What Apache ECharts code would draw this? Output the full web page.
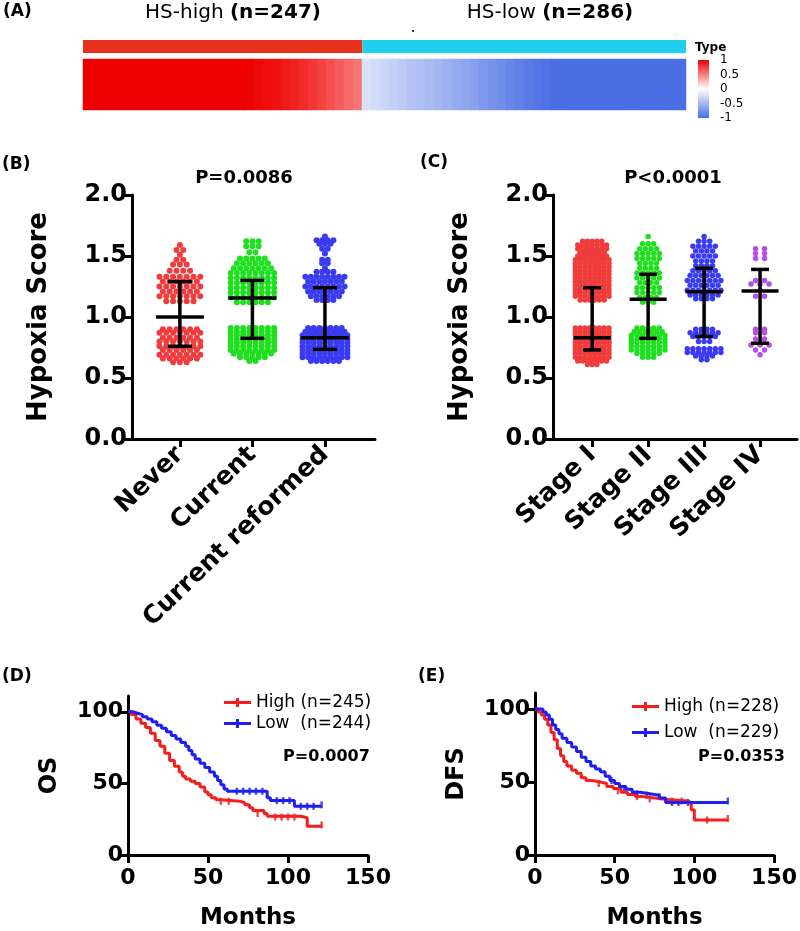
<!DOCTYPE html>
<html>
<head>
<meta charset="utf-8">
<title>Hypoxia score panels</title>
<script src="https://cdn.jsdelivr.net/npm/echarts@6/dist/echarts.min.js"></script>
<style>
  html, body { margin: 0; padding: 0; background: #fff; }
  #chart { width: 800px; height: 931px; }
</style>
</head>
<body>
<div id="chart"></div>
<script>
const FONT = '"DejaVu Sans", sans-serif';

// ---- (A) heatmap: one cell = about 8 samples ----
const groupNames = ["HS-high", "HS-low"];
const groupSizes = [247, 286];
const typeColors = ["#E8331A", "#1DD0EE"];
const hsHighScores = [1, 1, 1, 1, 1, 1, 1, 1, 1, 1, 1, 1, 1, 1, 1, 1, 1, 1,
  0.99, 0.97, 0.95, 0.93, 0.9, 0.87, 0.83, 0.79, 0.74, 0.69, 0.64, 0.59, 0.54];
const hsLowScores = [-0.21, -0.25, -0.29, -0.33, -0.37, -0.41, -0.44, -0.47, -0.5, -0.54, -0.58,
  -0.62, -0.66, -0.71, -0.75, -0.79, -0.84, -0.88, -0.92, -0.95, -0.97, -0.99,
  -1, -1, -1, -1, -1, -1, -1, -1, -1, -1, -1, -1, -1, -1];
const colorbarTicks = ["1", "0.5", "0", "-0.5", "-1"];

// ---- (B) smoking status: rows of the swarm as [score, number of dots] ----
const smokingCats = ["Never", "Current", "Current reformed"];
const neverRows = [[1.59, 1], [1.55, 2], [1.51, 1], [1.47, 2], [1.43, 3], [1.38, 4], [1.33, 7], [1.29, 6],
  [1.25, 7], [1.21, 6], [1.17, 7], [1.13, 5], [0.9, 6], [0.87, 7], [0.83, 6], [0.8, 7], [0.76, 7],
  [0.73, 6], [0.69, 7], [0.66, 6], [0.63, 3]];
const currentRows = [[1.62, 3], [1.58, 3], [1.53, 2], [1.48, 5], [1.44, 6], [1.4, 7], [1.36, 8], [1.32, 8],
  [1.28, 8], [1.24, 8], [1.2, 8], [1.16, 8], [1.12, 6], [0.91, 8], [0.88, 8], [0.85, 8], [0.82, 8],
  [0.79, 8], [0.76, 8], [0.73, 8], [0.7, 7], [0.67, 5], [0.64, 2]];
const reformedRows = [[1.66, 1], [1.63, 4], [1.6, 3], [1.56, 2], [1.52, 1], [1.47, 2], [1.44, 2], [1.4, 1],
  [1.37, 4], [1.33, 8], [1.29, 7], [1.25, 8], [1.21, 7], [1.17, 6], [1.14, 4], [0.91, 7], [0.88, 8],
  [0.85, 9], [0.82, 9], [0.79, 9], [0.76, 9], [0.73, 9], [0.7, 9], [0.67, 9], [0.64, 6]];
// [category index, middle line, lower cap, upper cap]
const smokingBars = [[0, 1.0, 0.76, 1.29], [1, 1.155, 0.825, 1.3], [2, 0.83, 0.735, 1.24]];

// ---- (C) stage ----
const stageCats = ["Stage I", "Stage II", "Stage III", "Stage IV"];
const stage1Rows = [[1.62, 5], [1.59, 7], [1.56, 7], [1.53, 6], [1.5, 7], [1.47, 8], [1.44, 8], [1.41, 8],
  [1.38, 8], [1.35, 8], [1.32, 8], [1.29, 8], [1.26, 8], [1.23, 8], [1.2, 8], [1.17, 8], [1.14, 6],
  [0.91, 8], [0.88, 8], [0.85, 8], [0.82, 8], [0.79, 8], [0.76, 8], [0.73, 8], [0.7, 8], [0.67, 8],
  [0.64, 7], [0.61, 3]];
const stage2Rows = [[1.66, 1], [1.6, 3], [1.56, 4], [1.52, 5], [1.48, 5], [1.44, 4], [1.4, 4], [1.36, 5],
  [1.32, 5], [1.28, 4], [1.24, 5], [1.2, 5], [1.16, 4], [1.12, 3], [0.91, 5], [0.88, 6], [0.85, 7],
  [0.82, 7], [0.79, 7], [0.76, 7], [0.73, 7], [0.7, 5], [0.67, 3]];
const stage3Rows = [[1.66, 1], [1.62, 3], [1.58, 5], [1.54, 4], [1.5, 5], [1.46, 4], [1.42, 4], [1.38, 5],
  [1.34, 6], [1.3, 7], [1.26, 6], [1.22, 7], [1.18, 6], [1.15, 4], [0.9, 4], [0.87, 6], [0.84, 5],
  [0.8, 3], [0.74, 7], [0.71, 7], [0.68, 4], [0.65, 2]];
const stage4Rows = [[1.56, 2], [1.52, 2], [1.48, 2], [1.3, 2], [1.27, 3], [1.22, 1], [1.17, 2], [0.9, 2],
  [0.87, 2], [0.82, 2], [0.77, 3], [0.73, 2], [0.69, 1]];
const stageBars = [[0, 0.83, 0.73, 1.24], [1, 1.145, 0.825, 1.35], [2, 1.207, 0.84, 1.4], [3, 1.213, 0.785, 1.39]];

// ---- (D) OS, (E) DFS: Kaplan-Meier steps as [month, survival %] ----
const osHigh = [[0, 100], [2, 98], [5, 95], [8, 92], [11, 89], [14, 85], [17, 80], [20, 76], [23, 71], [26, 66],
  [29, 62], [32, 58], [34, 55], [36, 53], [39, 51.5], [42, 50], [45, 47.5], [48, 44], [50, 42], [52, 40],
  [55, 38.5], [58, 37.5], [70, 36.5], [73, 35], [76, 33], [78, 31], [85, 29], [87, 27], [108, 26], [112, 20], [121, 20]];
const osLow = [[0, 100], [3, 99], [6, 98], [9, 96.5], [12, 95], [15, 93], [18, 90.5], [21, 88.5], [24, 86],
  [27, 83.5], [30, 81], [33, 78.5], [36, 76], [38, 73], [40, 70], [42, 67], [45, 64], [48, 61], [51, 58],
  [54, 55], [56, 52], [58, 49], [60, 46], [62, 44.5], [87, 40], [89, 38], [104, 34], [121, 34]];
const osHighCensor = [[58, 37.5], [63, 37.5], [81, 29], [92, 26.5], [96, 26.5], [100, 26.5], [104, 26.5], [121, 21]];
const osLowCensor = [[68, 44.5], [72, 44.5], [76, 44.5], [80, 44.5], [84, 44.5], [93, 38], [97, 38], [101, 38],
  [108, 34], [112, 34], [116, 34], [121, 35]];
const dfsHigh = [[0, 100], [2, 98], [4, 96], [6, 93], [8, 89], [10, 84], [12, 79], [14, 73], [16, 68], [18, 64],
  [20, 61], [23, 58], [26, 56], [29, 53], [32, 51], [36, 50], [41, 49], [45, 47], [49, 45.5], [54, 43],
  [58, 41.5], [63, 40], [68, 39], [75, 38], [83, 37], [96, 36], [98, 31], [100, 24], [121, 24]];
const dfsLow = [[0, 100], [3, 100], [5, 98], [7, 96], [9, 93], [11, 89], [13, 86], [15, 83], [17, 80], [20, 77],
  [23, 74], [26, 71], [29, 67], [32, 64], [35, 61], [38, 59], [41, 57], [44, 54], [47, 51], [50, 49],
  [53, 47], [57, 45], [61, 43], [66, 42], [72, 41], [78, 39], [82, 36], [121, 36]];
const dfsHighCensor = [[40, 49], [52, 44], [64, 40], [72, 38.5], [86, 37], [92, 37], [108, 24], [121, 25]];
const dfsLowCensor = [[48, 51], [56, 45], [64, 42], [70, 41], [78, 40], [86, 36], [90, 36], [96, 36], [121, 37]];
const kmTicksY = [0, 50, 100];

const RED = "#F03C3C";
const GREEN = "#1EE01E";
const BLUE = "#3A3AF0";
const PURPLE = "#B450E6";
const KM_RED = "#F51E1E";
const KM_BLUE = "#1E1EF0";

// swarm layout: dots of one row spread sideways around the category centre
function swarm(rows, index, spacingPx, unitPx) {
  const points = [];
  rows.forEach(([score, count]) => {
    for (let i = 0; i < count; i++) {
      points.push([index + ((i - (count - 1) / 2) * spacingPx) / unitPx, score]);
    }
  });
  return points;
}

function errorBars(meanW, capW) {
  return function (params, api) {
    const x = api.value(0);
    const mid = api.coord([x, api.value(1)]);
    const lo = api.coord([x, api.value(2)]);
    const hi = api.coord([x, api.value(3)]);
    const style = { stroke: "#000", lineWidth: 3.5 };
    const hLine = (p, w) => ({
      type: "line",
      shape: { x1: p[0] - w / 2, y1: p[1], x2: p[0] + w / 2, y2: p[1] },
      style,
    });
    return {
      type: "group",
      children: [
        { type: "line", shape: { x1: lo[0], y1: lo[1], x2: hi[0], y2: hi[1] }, style },
        hLine(lo, capW),
        hLine(hi, capW),
        hLine(mid, meanW),
      ],
    };
  };
}

const axisLine = { show: true, onZero: false, lineStyle: { color: "#000", width: 3 } };
const axisTick = { show: true, length: 8, lineStyle: { color: "#000", width: 3 } };
const boldText = (size) => ({ fontFamily: FONT, fontWeight: "bold", fontSize: size, color: "#000" });

function scoreYAxis(gridIndex) {
  return {
    type: "value",
    gridIndex,
    min: 0,
    max: 2,
    interval: 0.5,
    name: "Hypoxia Score",
    nameLocation: "middle",
    nameRotate: 90,
    nameGap: 80,
    nameTextStyle: boldText(26),
    axisLine,
    axisTick,
    axisLabel: { ...boldText(24), margin: 5, formatter: (v) => v.toFixed(1) },
    splitLine: { show: false },
  };
}

function categoryXAxis(gridIndex, cats, min, max) {
  const idx = cats.map((c, i) => i);
  return {
    type: "value",
    gridIndex,
    min,
    max,
    axisLine,
    axisTick: { ...axisTick, customValues: idx },
    axisLabel: { ...boldText(25), rotate: 44, margin: 12, customValues: idx, formatter: (v) => cats[v] },
    splitLine: { show: false },
  };
}

function kmXAxis(gridIndex) {
  return {
    type: "value",
    gridIndex,
    min: 0,
    max: 150,
    interval: 50,
    name: "Months",
    nameLocation: "middle",
    nameGap: 52,
    nameTextStyle: boldText(23),
    axisLine,
    axisTick,
    axisLabel: { ...boldText(22), margin: 12 },
    splitLine: { show: false },
  };
}

function kmYAxis(gridIndex, name) {
  return {
    type: "value",
    gridIndex,
    min: 0,
    max: 111,
    name,
    nameLocation: "middle",
    nameRotate: 90,
    nameGap: 66,
    nameTextStyle: boldText(24),
    axisLine,
    axisTick: { ...axisTick, customValues: kmTicksY },
    axisLabel: { ...boldText(22), margin: 5, customValues: kmTicksY },
    splitLine: { show: false },
  };
}

function scatter(name, data, color, size, xi) {
  return {
    name,
    type: "scatter",
    xAxisIndex: xi,
    yAxisIndex: xi,
    data,
    symbolSize: size,
    itemStyle: { color, opacity: 1 },
    silent: true,
    z: 2,
  };
}

function kmLine(name, data, color, xi) {
  return {
    name,
    type: "line",
    step: "end",
    xAxisIndex: xi,
    yAxisIndex: xi,
    data,
    showSymbol: false,
    lineStyle: { color, width: 3 },
    itemStyle: { color },
  };
}

function censor(data, color, xi) {
  return {
    type: "scatter",
    xAxisIndex: xi,
    yAxisIndex: xi,
    data,
    symbol: "rect",
    symbolSize: [2.5, 7],
    itemStyle: { color },
    silent: true,
  };
}

const B_UNIT = 72.5;
const C_UNIT = 56;
const heatData = hsHighScores.concat(hsLowScores).map((v, i) => [i, 0, v]);

const series = [
  { type: "bar", stack: "type", xAxisIndex: 0, yAxisIndex: 0, data: [groupSizes[0]], barWidth: "100%",
    itemStyle: { color: typeColors[0] }, silent: true },
  { type: "bar", stack: "type", xAxisIndex: 0, yAxisIndex: 0, data: [groupSizes[1]], barWidth: "100%",
    itemStyle: { color: typeColors[1] }, silent: true },
  { type: "heatmap", xAxisIndex: 1, yAxisIndex: 1, data: heatData, itemStyle: { borderWidth: 0 }, silent: true },

  scatter("Never", swarm(neverRows, 0, 6.8, B_UNIT), RED, 6, 2),
  scatter("Current", swarm(currentRows, 1, 6.2, B_UNIT), GREEN, 6, 2),
  scatter("Current reformed", swarm(reformedRows, 2, 5.6, B_UNIT), BLUE, 6, 2),
  { type: "custom", xAxisIndex: 2, yAxisIndex: 2, data: smokingBars, renderItem: errorBars(48, 24), z: 5, silent: true },

  scatter("Stage I", swarm(stage1Rows, 0, 4.8, C_UNIT), RED, 5.5, 3),
  scatter("Stage II", swarm(stage2Rows, 1, 5.6, C_UNIT), GREEN, 5.5, 3),
  scatter("Stage III", swarm(stage3Rows, 2, 5.6, C_UNIT), BLUE, 5.5, 3),
  scatter("Stage IV", swarm(stage4Rows, 3, 9, C_UNIT), PURPLE, 5.5, 3),
  { type: "custom", xAxisIndex: 3, yAxisIndex: 3, data: stageBars, renderItem: errorBars(37, 18), z: 5, silent: true },

  kmLine("High (n=245)", osHigh, KM_RED, 4),
  kmLine("Low  (n=244)", osLow, KM_BLUE, 4),
  censor(osHighCensor, KM_RED, 4),
  censor(osLowCensor, KM_BLUE, 4),
  kmLine("High (n=228)", dfsHigh, KM_RED, 5),
  kmLine("Low  (n=229)", dfsLow, KM_BLUE, 5),
  censor(dfsHighCensor, KM_RED, 5),
  censor(dfsLowCensor, KM_BLUE, 5),
];

function label(text, x, y, font, align) {
  return {
    type: "text",
    silent: true,
    style: { text, x, y, font, fill: "#000", align: align || "left", verticalAlign: "middle" },
  };
}

function header(name, size, x) {
  return {
    type: "text",
    silent: true,
    style: {
      text: `{n|${name} }{b|(n=${size})}`,
      x, y: 13, align: "center", verticalAlign: "middle", fill: "#000",
      rich: { n: { font: '20px "DejaVu Sans"' }, b: { font: 'bold 20px "DejaVu Sans"' } },
    },
  };
}

const graphic = [
  label("(A)", 3, 12, 'bold 17px "DejaVu Sans"'),
  header(groupNames[0], groupSizes[0], 233),
  header(groupNames[1], groupSizes[1], 550),
  { type: "rect", silent: true, shape: { x: 412, y: 30, width: 2, height: 2 }, style: { fill: "#333" } },
  label("Type", 695, 48, 'bold 12px "DejaVu Sans"'),
  {
    type: "rect",
    silent: true,
    shape: { x: 698, y: 60, width: 11, height: 58 },
    style: {
      fill: new echarts.graphic.LinearGradient(0, 0, 0, 1, [
        { offset: 0, color: "#EE0000" },
        { offset: 0.5, color: "#FFFFFF" },
        { offset: 1, color: "#4A6FE3" },
      ]),
    },
  },
  ...colorbarTicks.map((t, i) => label(t, 720, 60 + i * 14.5, '12px "DejaVu Sans"')),
  label("(B)", 2, 165, 'bold 17px "DejaVu Sans"'),
  label("(C)", 420, 163, 'bold 17px "DejaVu Sans"'),
  label("(D)", 2, 677, 'bold 17px "DejaVu Sans"'),
  label("(E)", 418, 677, 'bold 17px "DejaVu Sans"'),
  label("P=0.0086", 244, 178, 'bold 18px "DejaVu Sans"', "center"),
  label("P<0.0001", 673, 178, 'bold 18px "DejaVu Sans"', "center"),
  label("P=0.0007", 283, 757, 'bold 16px "DejaVu Sans"'),
  label("P=0.0353", 698, 757, 'bold 16px "DejaVu Sans"'),
];

const legendIcon = "path://M0,3L27,3L27,6L0,6Z M12,0L15,0L15,9L12,9Z";
const legendText = { fontFamily: FONT, fontSize: 17, color: "#000" };

const option = {
  animation: false,
  backgroundColor: "#fff",
  grid: [
    { left: 83, top: 40, width: 603, height: 13 },
    { left: 83, top: 59, width: 603, height: 51 },
    { left: 132, top: 195, width: 243, height: 244 },
    { left: 553, top: 195, width: 244, height: 244 },
    { left: 128, top: 696, width: 240, height: 160 },
    { left: 535, top: 693, width: 240, height: 162 },
  ],
  xAxis: [
    { type: "value", gridIndex: 0, min: 0, max: groupSizes[0] + groupSizes[1], show: false },
    { type: "category", gridIndex: 1, data: heatData.map((d) => d[0]), show: false },
    categoryXAxis(2, smokingCats, -0.66, 2.69),
    categoryXAxis(3, stageCats, -0.7, 3.66),
    kmXAxis(4),
    kmXAxis(5),
  ],
  yAxis: [
    { type: "category", gridIndex: 0, data: ["Type"], show: false },
    { type: "category", gridIndex: 1, data: ["HS"], show: false },
    scoreYAxis(2),
    scoreYAxis(3),
    kmYAxis(4, "OS"),
    kmYAxis(5, "DFS"),
  ],
  visualMap: {
    show: false,
    type: "continuous",
    min: -1,
    max: 1,
    seriesIndex: 2,
    inRange: { color: ["#4A6FE3", "#FFFFFF", "#EE0000"] },
  },
  legend: [
    {
      data: ["High (n=245)", "Low  (n=244)"],
      orient: "vertical", left: 224, top: 694, padding: 0, itemGap: 4,
      itemWidth: 27, itemHeight: 9, icon: legendIcon, textStyle: legendText, selectedMode: false,
    },
    {
      data: ["High (n=228)", "Low  (n=229)"],
      orient: "vertical", left: 632, top: 698, padding: 0, itemGap: 9,
      itemWidth: 27, itemHeight: 9, icon: legendIcon, textStyle: legendText, selectedMode: false,
    },
  ],
  graphic,
  series,
};

const chart = echarts.init(document.getElementById("chart"), null, { renderer: "canvas" });
chart.setOption(option);
</script>
</body>
</html>
